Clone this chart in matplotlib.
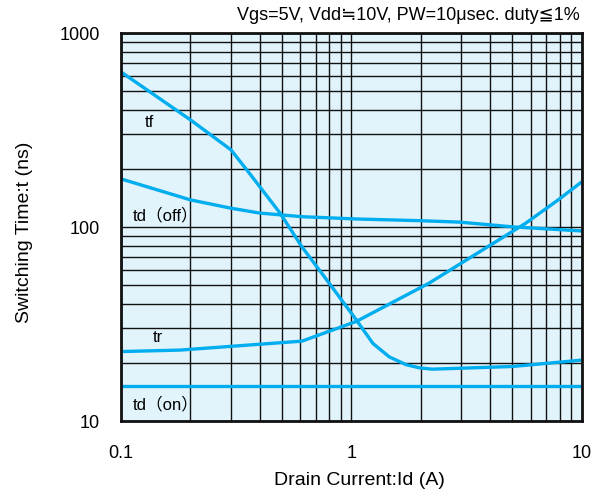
import matplotlib.pyplot as plt
from matplotlib.ticker import FixedLocator, NullFormatter

plt.rcParams['font.family'] = ['Liberation Sans', 'DejaVu Sans', 'Noto Sans CJK JP']

# Curves
tf_x = [0.1, 0.2, 0.3, 0.36, 0.49, 0.61, 0.8, 1.05, 1.24, 1.46, 1.73, 1.97, 2.24, 5.0, 10]
tf_y = [630, 357, 250, 190, 118, 79, 51.4, 33.2, 25.1, 21.4, 19.5, 18.8, 18.5, 19.1, 20.6]

tdoff_x = [0.1, 0.2, 0.3, 0.4, 0.61, 1.05, 1.97, 2.93, 5.0, 10]
tdoff_y = [177, 138, 125, 118, 113, 110, 107.8, 106, 100.2, 95.4]

tr_x = [0.1, 0.18, 0.61, 1.05, 2.17, 5.7, 7.9, 10]
tr_y = [22.8, 23.2, 25.8, 32.6, 51.3, 104.5, 138, 171]

tdon_x = [0.1, 10]
tdon_y = [15.1, 15.1]

x_ticks = [0.1, 1, 10]
x_ticklabels = ['0.1', '1', '10']
y_ticks = [10, 100, 1000]
y_ticklabels = ['10', '100', '1000']

curve_labels = [('tf', 0.127, 347), ('td（off）', 0.1127, 115), ('tr', 0.1376, 26.8), ('td（on）', 0.1127, 12.1)]

line_color = '#00aeef'

fig = plt.figure(figsize=(6.04, 5.0), dpi=100)
ax = fig.add_axes([0.2003, 0.158, 0.7630, 0.776])
ax.set_facecolor('#e1f3fb')
ax.set_xscale('log')
ax.set_yscale('log')
ax.set_xlim(0.1, 10)
ax.set_ylim(10, 1000)

for xs, ys in [(tf_x, tf_y), (tdoff_x, tdoff_y), (tr_x, tr_y), (tdon_x, tdon_y)]:
    ax.plot(xs, ys, color=line_color, lw=2.4, solid_capstyle='butt', zorder=3)

ax.xaxis.set_major_locator(FixedLocator(x_ticks))
ax.yaxis.set_major_locator(FixedLocator(y_ticks))
ax.set_xticklabels(x_ticklabels)
ax.set_yticklabels(y_ticklabels)
ax.xaxis.set_minor_formatter(NullFormatter())
ax.yaxis.set_minor_formatter(NullFormatter())
ax.grid(True, which='both', color='#111111', lw=1.0, zorder=1)
ax.tick_params(which='both', length=0, labelsize=13)
ax.tick_params(axis='x', pad=17)
ax.tick_params(axis='y', pad=15)

for s in ax.spines.values():
    s.set_linewidth(2.0)
    s.set_color('#111111')
    s.set_zorder(4)

for txt, x, y in curve_labels:
    ax.text(x, y, txt, fontsize=12, ha='left', va='center', zorder=5)

ax.set_xlabel('Drain Current:Id (A)', fontsize=14)
ax.set_ylabel('Switching Time:t (ns)', fontsize=14)
ax.xaxis.set_label_coords(0.517, -0.131)
ax.yaxis.set_label_coords(-0.191, 0.487)
fig.text(0.960, 0.968, 'Vgs=5V, Vdd≒10V, PW=10μsec. duty≦1%', fontsize=13, ha='right', va='center')

fig.savefig('out.png', dpi=100)
